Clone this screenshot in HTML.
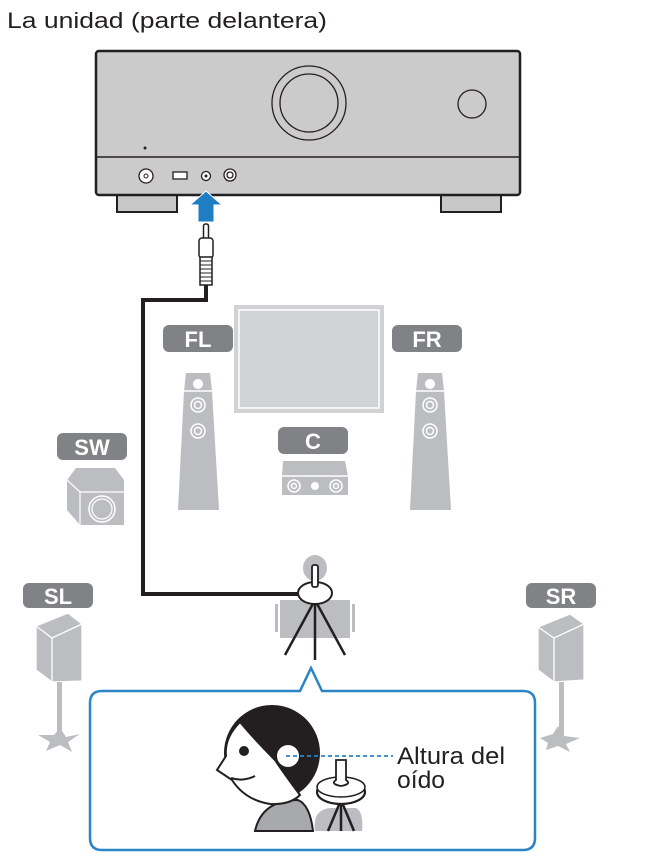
<!DOCTYPE html>
<html><head><meta charset="utf-8"><style>
html,body{margin:0;padding:0;background:#fff;}
svg{display:block;}
text{font-family:"Liberation Sans",sans-serif;}
</style></head><body>
<svg width="670" height="858" viewBox="0 0 670 858" xmlns="http://www.w3.org/2000/svg">
<text x="7" y="28" font-size="22" fill="#231f20" textLength="320" lengthAdjust="spacingAndGlyphs">La unidad (parte delantera)</text>
<!-- receiver -->
<rect x="117" y="190" width="60" height="22" fill="#c8c8c8" stroke="#231f20" stroke-width="2"/>
<rect x="441" y="190" width="60" height="22" fill="#c8c8c8" stroke="#231f20" stroke-width="2"/>
<rect x="96" y="51" width="424" height="144" rx="3" fill="#cbcbcb" stroke="#231f20" stroke-width="2.5"/>
<line x1="96" y1="157" x2="520" y2="157" stroke="#231f20" stroke-width="1.5"/>
<circle cx="309" cy="103" r="37" fill="none" stroke="#231f20" stroke-width="1.3"/>
<circle cx="309" cy="103" r="29" fill="none" stroke="#231f20" stroke-width="1.3"/>
<circle cx="472" cy="104" r="14" fill="none" stroke="#231f20" stroke-width="1.3"/>
<circle cx="145" cy="148" r="1.5" fill="#231f20"/>
<circle cx="146" cy="176" r="7" fill="#fff" stroke="#231f20" stroke-width="1.3"/>
<circle cx="146" cy="176" r="2" fill="none" stroke="#231f20"/>
<rect x="173" y="172" width="14" height="7" fill="#fff" stroke="#231f20" stroke-width="1.3"/>
<circle cx="206" cy="176" r="4.5" fill="#fff" stroke="#231f20" stroke-width="1.3"/>
<circle cx="206" cy="176" r="1.5" fill="#231f20"/>
<circle cx="230" cy="175" r="6" fill="#fff" stroke="#231f20" stroke-width="1.3"/>
<circle cx="230" cy="175" r="3" fill="none" stroke="#231f20" stroke-width="1.3"/>
<!-- arrow -->
<polygon points="206,191 222,205 214,205 214,222 198,222 198,205 190,205" fill="#1f7dc4" stroke="#fff" stroke-width="1"/>
<!-- plug -->
<rect x="203.5" y="224" width="5" height="16" rx="2" fill="#fff" stroke="#231f20" stroke-width="1.5"/>
<rect x="199" y="238" width="14" height="20" rx="3" fill="#fff" stroke="#231f20" stroke-width="1.5"/>
<rect x="200" y="257" width="12" height="28" fill="#fff" stroke="#231f20" stroke-width="1.5"/>
<g stroke="#231f20" stroke-width="1"><line x1="200" y1="261" x2="212" y2="261"/><line x1="200" y1="265" x2="212" y2="265"/><line x1="200" y1="269" x2="212" y2="269"/><line x1="200" y1="273" x2="212" y2="273"/><line x1="200" y1="277" x2="212" y2="277"/><line x1="200" y1="281" x2="212" y2="281"/></g>
<polyline points="206,285 206,300 143,300 143,594 300,594" fill="none" stroke="#231f20" stroke-width="4"/>
<!-- TV -->
<rect x="234" y="305" width="150" height="108" fill="#d1d2d4"/>
<rect x="239" y="310" width="140" height="98" fill="none" stroke="#fff" stroke-width="1.5"/>
<!-- labels -->
<g fill="#808285">
<rect x="163" y="325" width="70" height="27" rx="6"/>
<rect x="392" y="325" width="70" height="27" rx="6"/>
<rect x="278" y="427" width="70" height="27" rx="6"/>
<rect x="57" y="433" width="70" height="27" rx="6"/>
<rect x="23" y="583" width="70" height="25" rx="6"/>
<rect x="526" y="583" width="70" height="25" rx="6"/>
</g>
<g fill="#fff" font-size="22" font-weight="bold" text-anchor="middle">
<text x="198" y="347">FL</text><text x="427" y="347">FR</text><text x="313" y="449">C</text>
<text x="92" y="455">SW</text><text x="58" y="604">SL</text><text x="561" y="604">SR</text>
</g>
<!-- FL FR towers -->
<g fill="#bcbdc0">
<polygon points="186,373 210,373 212,391 219,510 178,510 184,391"/>
<polygon points="418,373 442,373 444,391 451,510 410,510 416,391"/>
</g>
<g stroke="#fff" stroke-width="1.5" fill="none">
<line x1="184" y1="391" x2="212" y2="391"/><line x1="416" y1="391" x2="444" y2="391"/>
<circle cx="198" cy="405" r="7"/><circle cx="198" cy="405" r="3.5"/>
<circle cx="198" cy="431" r="7"/><circle cx="198" cy="431" r="3.5"/>
<circle cx="430" cy="405" r="7"/><circle cx="430" cy="405" r="3.5"/>
<circle cx="430" cy="431" r="7"/><circle cx="430" cy="431" r="3.5"/>
</g>
<circle cx="198" cy="384" r="5" fill="#fff"/><circle cx="430" cy="384" r="5" fill="#fff"/>
<!-- C speaker -->
<polygon points="283,461 345,461 348,476 282,476" fill="#bcbdc0"/>
<rect x="282" y="476" width="66" height="19" fill="#bcbdc0"/>
<line x1="282" y1="476" x2="348" y2="476" stroke="#fff" stroke-width="1.5"/>
<g stroke="#fff" stroke-width="1.5" fill="none"><circle cx="294" cy="486" r="6"/><circle cx="294" cy="486" r="2.5"/><circle cx="336" cy="486" r="6"/><circle cx="336" cy="486" r="2.5"/></g>
<circle cx="315" cy="486" r="4" fill="#fff"/>
<!-- SW -->
<polygon points="67,480 76,468 115,468 124,480 124,525 80,525 67,510" fill="#bcbdc0"/>
<polyline points="67,480 80,492 124,492" fill="none" stroke="#fff" stroke-width="1.2"/>
<line x1="80" y1="492" x2="80" y2="525" stroke="#fff" stroke-width="1.2"/>
<circle cx="102" cy="509" r="13" fill="none" stroke="#fff" stroke-width="1.5"/>
<circle cx="102" cy="509" r="10" fill="none" stroke="#fff" stroke-width="1.2"/>
<!-- SL / SR -->
<g fill="#bcbdc0" stroke="#fff" stroke-width="1.3">
<polygon points="36,626 68,613 82,624 82,681 52,682 36,670"/>
<polyline points="36,626 52,638 82,624" fill="none"/><line x1="52" y1="638" x2="52" y2="682"/>
<polygon points="538,627 570,614 584,624 584,680 554,682 538,670"/>
<polyline points="538,627 554,638 584,624" fill="none"/><line x1="554" y1="638" x2="554" y2="682"/>
</g>
<g fill="#bcbdc0">
<rect x="57" y="682" width="5" height="55"/>
<polygon points="38,735 54,735 60,728 66,737 80,734 68,742 72,752 60,745 46,751 50,742"/>
<rect x="559" y="682" width="5" height="55"/>
<polygon points="540,738 553,734 558,726 564,736 580,738 566,744 570,752 558,746 546,750 548,743"/>
</g>
<!-- listening position -->
<ellipse cx="315" cy="568" rx="12" ry="13" fill="#bcbdc0"/>
<rect x="280" y="600" width="70" height="38" fill="#bcbdc0"/>
<rect x="275" y="604" width="3" height="28" fill="#bcbdc0"/><rect x="352" y="604" width="3" height="28" fill="#bcbdc0"/>
<g stroke="#231f20" stroke-width="2.5"><line x1="315" y1="600" x2="285" y2="655"/><line x1="315" y1="600" x2="315" y2="660"/><line x1="315" y1="600" x2="345" y2="655"/></g>
<ellipse cx="315" cy="593" rx="17" ry="11" fill="#fff" stroke="#231f20" stroke-width="2"/>
<rect x="312" y="565" width="6" height="22" rx="2" fill="#fff" stroke="#231f20" stroke-width="1.8"/>
<!-- callout -->
<path d="M102,691 H300 L311,668 L322,691 H523 Q535,691 535,703 V838 Q535,850 523,850 H102 Q90,850 90,838 V703 Q90,691 102,691 Z" fill="#fff" stroke="#2a84c6" stroke-width="2.5"/>
<!-- person -->
<path d="M255,831 Q262,800 298,800 Q310,805 313,831 Z" fill="#a7a9ac" stroke="#231f20" stroke-width="2"/>
<path d="M315,831 Q312,810 330,808 H356 Q364,812 362,831 Z" fill="#bcbdc0"/>
<circle cx="272" cy="753" r="48" fill="#231f20"/>
<path d="M240,722 Q255,740 275,760 Q285,775 300,795 Q290,805 270,804 Q245,800 232,780 L217,770 L226,756 Q224,738 240,722 Z" fill="#fff" stroke="#231f20" stroke-width="2"/>
<circle cx="288" cy="756" r="11" fill="#fff"/>
<circle cx="244" cy="751" r="5" fill="#231f20"/>
<path d="M231,778 Q243,782 255,776" fill="none" stroke="#231f20" stroke-width="2"/>
<line x1="286" y1="756" x2="393" y2="756" stroke="#2a84c6" stroke-width="1.8" stroke-dasharray="4,3"/>
<g stroke="#231f20" stroke-width="2.5"><line x1="341" y1="800" x2="328" y2="831"/><line x1="341" y1="800" x2="341" y2="831"/><line x1="341" y1="800" x2="354" y2="831"/></g>
<ellipse cx="341" cy="792" rx="24" ry="12" fill="#fff" stroke="#231f20" stroke-width="2.2"/>
<ellipse cx="341" cy="787" rx="24" ry="10" fill="#fff" stroke="#231f20" stroke-width="1.5"/>
<path d="M336,760 H346 V780 Q352,784 341,786 Q330,784 336,780 Z" fill="#fff" stroke="#231f20" stroke-width="1.8"/>
<text x="397" y="764" font-size="24" fill="#231f20" textLength="108" lengthAdjust="spacingAndGlyphs">Altura del</text>
<text x="397" y="788" font-size="24" fill="#231f20" textLength="48" lengthAdjust="spacingAndGlyphs">oído</text>
</svg>
</body></html>
